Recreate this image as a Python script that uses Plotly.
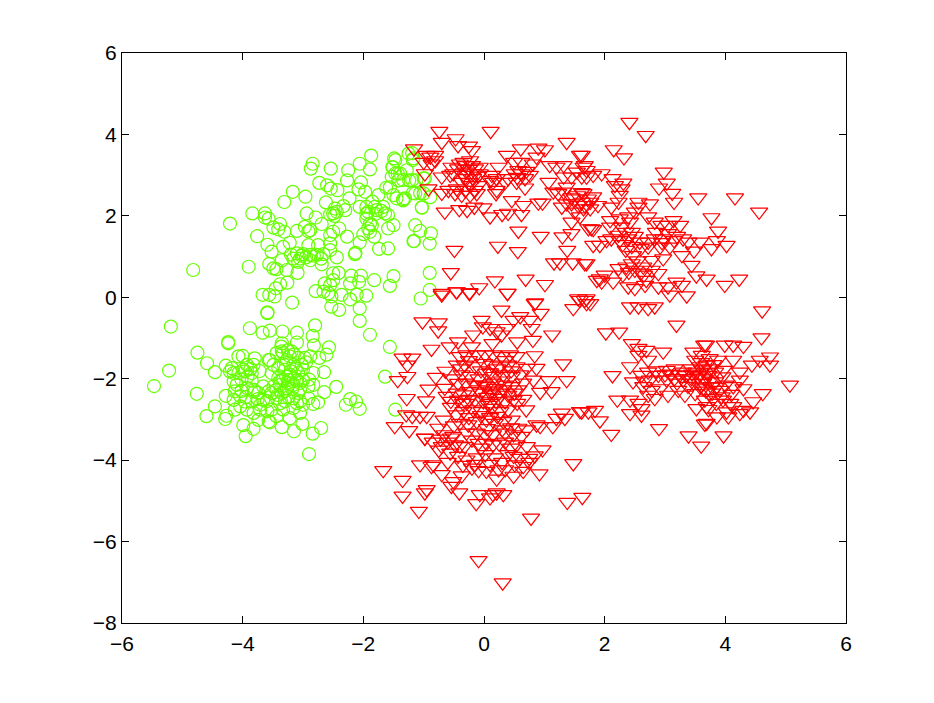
import plotly.graph_objects as go

green_upper = [(-4.21,1.81),(-4.82,0.67),(-5.19,-0.72),(-3.84,2.06),(-3.63,2.06),(-3.63,1.96),(-3.57,1.93),(-3.38,1.80),(-3.49,1.71),(-3.41,1.67),(-3.31,1.61),(-3.31,2.34),(-3.17,2.59),(-2.96,2.47),(-2.84,3.28),(-2.87,3.16),(-2.54,3.16),(-2.25,3.12),(-2.06,3.28),(-1.87,3.48),(-1.89,3.14),(-2.27,2.87),(-2.73,2.81),(-2.60,2.75),(-2.54,2.67),(-2.43,2.63),(-2.04,2.82),(-2.08,2.65),(-1.97,2.59),(-2.23,2.43),(-2.62,2.33),(-2.94,2.06),(-2.79,1.96),(-2.33,2.24),(-2.47,2.18),(-2.50,2.06),(-2.44,2.10),(-2.30,2.14),(-2.55,2.04),(-2.69,1.80),(-2.97,1.73),(-2.88,1.65),(-2.91,1.62),(-3.10,1.63),(-2.40,1.69),(-2.50,1.61),(-2.55,1.53),(-2.27,1.49),(-3.76,1.50),(-3.59,1.29),(-3.52,1.12),(-3.22,1.34),(-3.33,1.24),(-2.91,1.28),(-2.75,1.28),(-2.55,1.32),(-2.55,1.16),(-2.44,0.98),(-3.10,1.08),(-3.00,1.06),(-2.88,1.04),(-3.16,0.95),(-3.05,0.95),(-2.77,1.04),(-2.66,1.06),(-2.69,0.81),(-2.88,0.91),(-3.35,0.91),(-3.56,0.82),(-3.90,0.75),(-3.49,0.71),(-3.44,0.69),(-3.27,0.67),(-3.09,0.60),(-3.08,0.87),(-2.06,1.35),(-1.82,1.49),(-2.00,1.55),(-2.13,1.09),(-2.14,1.06),(-1.74,1.19),(-1.59,1.20),(-1.50,1.77),(-1.59,1.69),(-1.62,2.69),(-1.50,2.51),(-1.34,2.38),(-1.03,2.20),(-1.14,1.77),(-1.06,1.63),(-1.17,1.38),(-0.90,1.32),(-1.49,3.41),(-1.52,3.20),(-1.47,3.04),(-1.39,3.04),(-1.24,2.87),(-1.42,2.87),(-1.12,2.87),(-1.25,3.53),(-1.17,3.41),(-1.00,2.92),(-1.14,2.55),(-1.00,2.55),(-1.31,2.43),(-1.45,2.43),(-1.75,2.51),(-1.81,2.22),(-1.67,2.22),(-1.95,2.22),(-2.06,2.22),(-1.92,2.10),(-1.78,2.14),(-1.59,2.02),(-1.64,2.06),(-1.95,1.93),(-1.89,1.81),(-1.92,1.69),(-1.89,1.61),(-1.86,1.77),(-2.50,0.59),(-2.41,0.60),(-2.20,0.53),(-2.04,0.53),(-2.07,0.38),(-2.22,0.34),(-1.82,0.42),(-1.50,0.52),(-1.56,0.28),(-1.05,-0.03),(-0.90,0.60),(-0.90,0.18),(-3.26,0.36),(-3.38,0.32),(-3.45,0.22),(-3.67,0.06),(-3.56,0.06),(-3.47,0.02),(-3.18,-0.13),(-3.59,-0.37),(-3.59,-0.39),(-2.79,0.15),(-2.64,0.34),(-2.55,0.30),(-2.50,0.42),(-2.66,0.14),(-2.58,0.10),(-2.53,0.02),(-2.36,0.06),(-2.53,-0.23),(-2.40,-0.31),(-2.22,-0.05),(-2.11,0.06),(-1.95,0.04),(-2.06,-0.27),(-2.06,-0.58),(-1.19,3.54),(-1.47,3.37),(-1.18,3.37),(-1.51,3.19),(-1.28,3.12),(-1.43,3.04),(-1.53,2.96),(-1.34,2.88),(-1.19,2.88),(-0.98,2.92),(-1.56,2.70),(-1.18,2.56),(-1.06,2.56),(-0.89,2.46),(-1.34,2.41),(-1.03,2.21),(-0.88,1.57),(-1.16,1.38),(-1.89,-0.92),(-1.56,-1.22),(-1.64,-1.95),(-1.47,-2.76),(-1.85,2.35),(-1.95,2.05),(-1.80,2.05),(-1.70,2.12),(-2.48,2.00),(-2.95,0.98),(-3.02,1.02),(-2.82,1.02),(-2.70,0.95),(-3.20,1.05)]
green_lower = [(-3.88,-0.76),(-3.67,-0.87),(-3.55,-0.82),(-3.34,-0.84),(-3.10,-0.87),(-2.80,-0.69),(-2.84,-0.95),(-3.10,-1.11),(-2.82,-1.18),(-2.57,-1.23),(-4.24,-1.10),(-4.24,-1.13),(-4.75,-1.36),(-4.59,-1.62),(-5.22,-1.80),(-4.46,-1.84),(-5.47,-2.18),(-4.76,-2.37),(-4.46,-2.68),(-4.60,-2.92),(-4.29,-2.99),(-4.27,-2.91),(-3.99,-3.14),(-3.95,-3.41),(-3.82,-3.23),(-3.57,-3.05),(-3.55,-3.07),(-3.35,-3.19),(-3.15,-3.29),(-3.01,-3.11),(-2.84,-3.35),(-2.70,-3.21),(-2.90,-3.85),(-2.45,-2.20),(-2.29,-2.64),(-2.22,-2.50),(-2.12,-2.56),(-2.06,-2.74),(-2.65,-1.84),(-2.65,-2.33),(-2.75,-2.58),(-2.83,-2.62),(-2.61,-1.41),(-2.73,-1.49),(-2.88,-1.45),(-2.97,-1.49),(-3.08,-1.49),(-3.19,-1.33),(-3.35,-1.13),(-3.36,-1.21),(-3.35,-1.33),(-3.44,-1.37),(-3.55,-1.54),(-3.49,-1.66),(-3.27,-1.54),(-3.16,-1.66),(-3.02,-1.66),(-2.83,-1.86),(-3.30,-1.78),(-3.41,-1.74),(-3.52,-1.86),(-3.66,-2.19),(-3.22,-1.90),(-3.08,-1.86),(-3.00,-2.03),(-2.91,-2.19),(-2.83,-2.15),(-3.33,-2.03),(-3.38,-2.15),(-3.44,-2.27),(-3.27,-2.23),(-3.16,-2.15),(-3.05,-2.27),(-3.52,-2.35),(-3.35,-2.35),(-3.24,-2.45),(-3.00,-2.64),(-3.05,-2.84),(-3.16,-2.72),(-3.22,-2.97),(-3.33,-2.76),(-3.52,-2.76),(-3.71,-2.76),(-3.66,-2.52),(-3.74,-2.35),(-3.82,-2.27),(-3.96,-2.56),(-4.04,-2.68),(-3.93,-2.76),(-4.13,-2.76),(-4.15,-2.52),(-4.28,-2.42),(-4.13,-2.31),(-4.15,-2.07),(-4.21,-1.82),(-4.28,-1.68),(-4.18,-1.74),(-4.07,-1.45),(-4.00,-1.44),(-3.93,-1.66),(-3.82,-1.66),(-3.72,-1.81),(-3.85,-1.86),(-3.99,-1.78),(-4.07,-1.86),(-4.02,-2.02),(-4.10,-2.15),(-3.93,-2.23),(-3.80,-2.31),(-3.71,-2.64),(-3.82,-2.84),(-3.74,-3.01),(-3.59,-2.80),(-3.44,-2.92),(-3.08,-2.35),(-2.91,-2.48),(-3.24,-2.03),(-3.49,-2.19),(-3.41,-1.98),(-3.57,-2.31),(-3.96,-1.82),(-4.15,-1.86),(-3.87,-1.76),(-3.33,-1.37),(-3.22,-1.45),(-3.57,-1.54),(-3.10,-2.03),(-3.00,-1.78),(-3.44,-2.47),(-3.85,-2.56),(-4.04,-2.43),(-3.38,-2.60),(-3.16,-2.48),(-3.25,-2.10),(-3.18,-2.25),(-3.30,-2.30),(-3.15,-2.00),(-3.05,-2.10),(-3.38,-2.05),(-3.28,-1.95),(-3.20,-1.82),(-3.12,-1.75),(-3.32,-1.65),(-3.42,-2.40),(-3.30,-2.55),(-3.10,-2.60),(-3.60,-2.55),(-3.75,-2.50),(-3.92,-1.95),(-3.85,-2.05),(-4.02,-2.30),(-3.95,-2.45),(-3.05,-2.55),(-3.15,-1.40),(-3.25,-1.30),(-2.95,-1.60),(-3.80,-1.50),(-2.90,-2.02)]
red_top_left = [(-0.74,4.08),(0.11,4.08),(-0.47,3.90),(-0.43,3.73),(-0.70,3.81),(-0.25,3.72),(-0.20,3.61),(-1.16,3.65),(-0.95,3.49),(-0.81,3.49),(-0.89,3.45),(-1.00,3.32),(-0.87,3.28),(-0.81,3.36),(-0.98,3.04),(-0.70,2.96),(-0.54,3.20),(-0.51,3.04),(-0.34,3.32),(-0.31,3.24),(-0.20,3.24),(-0.07,3.20),(-0.29,3.08),(-0.18,3.04),(-0.07,3.04),(-0.29,2.92),(-0.18,2.92),(0.13,3.00),(0.24,3.20),(0.21,2.92),(0.15,2.83),(0.38,3.49),(0.61,3.65),(0.90,3.67),(1.01,3.63),(0.87,3.45),(0.50,3.32),(0.62,3.32),(0.81,3.28),(0.51,3.04),(0.62,3.04),(0.76,3.00),(0.54,2.83),(0.68,2.69),(1.07,2.83),(1.09,3.24),(1.32,3.24),(1.37,3.81),(1.59,3.49),(1.65,3.20),(1.45,2.96),(1.37,2.71),(1.23,2.55),(-0.92,2.67),(-0.70,2.56),(-0.48,2.55),(-0.37,2.51),(-0.23,2.51),(-0.12,2.55),(-0.01,2.20),(-0.16,2.22),(-0.28,2.14),(-0.41,2.16),(-0.65,2.10),(0.10,1.98),(0.20,2.55),(0.30,2.04),(0.40,2.07),(0.62,2.04),(0.46,2.38),(0.65,2.26),(0.90,2.32),(0.97,2.32),(1.29,2.22),(1.45,2.30),(1.56,2.26),(1.67,2.26),(1.45,1.85),(1.59,1.98),(0.57,1.63),(0.94,1.50),(1.45,1.57),(1.30,1.49),(1.73,1.69),(-0.49,1.16),(0.23,1.26),(0.56,1.13),(1.38,1.16),(1.16,0.85),(1.26,0.85),(1.47,0.85),(1.67,0.83),(-0.55,0.61),(0.18,0.41),(0.69,0.45),(1.01,0.32),(-0.70,0.10),(-0.46,0.14),(-0.24,0.12),(-0.08,0.24),(0.39,0.10),(0.85,-0.13),(1.56,-0.03),(1.70,-0.03),(-0.40,3.28),(-0.23,3.36),(-0.43,3.16),(-0.15,3.16),(-0.37,2.83),(-0.23,2.75),(-0.09,2.75),(-0.45,2.67),(-0.59,2.63),(-0.31,2.63),(-0.15,2.63),(-0.56,3.00),(0.10,2.87),(0.35,2.83),(0.40,2.92),(0.57,3.12),(0.68,2.92),(1.32,2.59),(1.51,2.42),(1.65,2.55),(1.70,3.12),(1.20,3.20),(1.32,2.96),(1.54,3.08),(1.37,2.30),(1.15,2.59),(0.21,2.63),(-0.25,3.15),(-0.10,2.98),(-0.35,3.00),(-0.25,2.82),(0.55,2.95),(0.70,3.10),(1.45,2.45),(1.55,2.50),(1.72,2.42),(1.62,2.58),(1.50,2.10)]
red_top_right = [(2.41,4.30),(2.68,3.98),(2.15,3.63),(2.32,3.43),(1.62,3.49),(1.67,3.24),(1.62,2.96),(1.70,2.96),(1.81,3.00),(1.95,3.04),(2.13,2.92),(2.31,2.81),(2.17,2.75),(2.28,2.67),(2.25,2.51),(2.98,3.08),(3.03,2.81),(2.90,2.69),(3.12,2.56),(3.15,2.34),(3.55,2.45),(4.16,2.45),(4.56,2.10),(3.77,1.96),(3.88,1.63),(3.86,1.40),(4.02,1.28),(3.77,1.20),(3.58,1.36),(3.48,1.14),(3.28,1.03),(3.44,0.79),(3.52,0.53),(3.69,0.45),(4.23,0.45),(3.99,0.30),(3.36,0.04),(4.61,-0.33),(1.81,2.47),(1.76,2.34),(1.62,2.34),(1.65,2.18),(1.89,2.26),(1.76,2.18),(2.23,2.34),(2.11,2.22),(2.56,2.34),(2.75,2.30),(2.56,2.22),(2.50,2.10),(2.39,1.98),(2.25,1.93),(2.09,1.89),(2.72,1.98),(2.83,1.85),(3.14,1.89),(3.25,1.77),(2.94,1.77),(3.05,1.77),(1.78,1.69),(1.81,1.67),(2.09,1.73),(2.28,1.73),(2.42,1.85),(2.23,1.53),(2.11,1.44),(2.03,1.40),(2.39,1.44),(1.81,1.28),(1.92,1.28),(2.58,1.36),(2.72,1.36),(2.83,1.44),(2.72,1.24),(2.97,1.44),(3.05,1.57),(2.92,1.24),(3.08,1.24),(3.30,1.44),(3.39,1.36),(2.35,1.16),(2.47,1.03),(2.78,0.91),(2.97,0.95),(1.70,0.83),(2.23,0.71),(2.36,0.75),(2.45,0.83),(2.50,0.67),(2.64,0.75),(2.78,0.67),(2.89,0.59),(1.92,0.46),(2.00,0.55),(2.14,0.38),(2.39,0.26),(2.50,0.22),(2.67,0.30),(2.89,0.26),(3.08,0.06),(3.19,0.38),(3.05,0.26),(3.28,0.30),(2.42,-0.23),(2.56,-0.23),(2.72,-0.27),(2.83,-0.23),(1.67,-0.07),(1.76,-0.15),(1.87,0.42),(1.95,0.38),(2.69,0.42),(2.45,1.60),(2.50,1.50),(2.35,1.60),(2.25,1.40),(2.30,1.30),(2.45,1.25),(2.60,1.20),(2.55,0.90),(2.60,0.60),(2.65,0.55),(2.40,0.62),(2.30,0.55),(2.95,1.35),(3.15,1.40),(3.20,1.50),(2.85,1.60)]
red_bottom_mid = [(-1.02,-0.60),(-0.75,-0.62),(-0.76,-0.82),(-0.87,-1.27),(-0.57,-1.21),(-0.43,-1.09),(-0.18,-0.92),(-0.04,-0.56),(-0.02,-0.72),(0.10,-0.76),(0.38,-0.76),(0.21,-0.84),(0.29,-0.92),(0.60,-0.47),(0.49,-0.56),(0.76,-0.56),(0.79,-0.76),(0.29,-0.31),(0.84,-0.15),(0.94,-0.39),(1.13,-0.92),(0.81,-1.05),(0.55,-1.09),(0.14,-1.13),(-0.20,-1.21),(-1.35,-1.49),(-1.19,-1.49),(-1.27,-1.66),(-1.27,-1.94),(-1.43,-2.04),(-0.64,-1.81),(-0.80,-1.96),(-1.28,-2.48),(-0.96,-2.54),(-0.92,-2.25),(-0.65,-2.23),(-0.62,-2.43),(-0.43,-2.11),(1.31,-1.63),(1.37,-2.04),(1.07,-2.04),(0.93,-2.33),(1.12,-2.31),(0.82,-2.03),(0.84,-1.43),(0.87,-1.74),(0.71,-1.74),(0.70,-2.76),(-1.48,-3.17),(-1.24,-3.27),(-0.98,-3.46),(-1.29,-2.88),(-1.19,-2.92),(-1.06,-2.92),(-0.95,-2.92),(-0.67,-3.01),(-0.46,-2.88),(-0.76,-3.21),(1.59,-2.80),(1.29,-2.84),(1.34,-2.97),(1.20,-2.97),(1.14,-3.17),(0.46,-3.01),(0.87,-3.13),(0.93,-3.17),(1.48,-0.27),(1.59,-0.07),(1.70,-0.15),(-0.70,0.06),(-0.45,0.14),(-0.24,0.10),(0.39,0.10)]
red_bottom_core = [(-0.40,-1.45),(-0.29,-1.41),(-0.12,-1.41),(0.02,-1.41),(0.15,-1.41),(0.29,-1.45),(0.43,-1.41),(0.54,-1.45),(-0.45,-1.66),(-0.32,-1.66),(-0.15,-1.70),(0.00,-1.62),(0.13,-1.66),(0.27,-1.70),(0.40,-1.66),(0.54,-1.70),(-0.37,-1.90),(-0.23,-1.94),(-0.09,-2.00),(0.04,-1.86),(0.18,-1.94),(0.32,-1.90),(0.46,-1.94),(0.60,-1.90),(-0.34,-2.39),(-0.23,-2.31),(-0.09,-2.27),(0.04,-2.19),(0.18,-2.23),(0.32,-2.27),(0.46,-2.19),(0.57,-2.27),(-0.43,-2.52),(-0.29,-2.60),(-0.15,-2.52),(-0.01,-2.56),(0.13,-2.39),(0.24,-2.48),(0.35,-2.56),(0.49,-2.52),(0.10,-2.60),(-0.34,-2.80),(-0.18,-2.76),(-0.04,-2.80),(0.13,-2.72),(0.27,-2.80),(0.40,-2.76),(-0.40,-3.09),(-0.26,-3.13),(-0.12,-3.05),(0.04,-3.01),(0.18,-3.09),(0.32,-3.05),(0.57,-3.21),(0.71,-3.25),(-0.65,-3.37),(-0.51,-3.41),(-0.29,-3.33),(-0.12,-3.33),(0.02,-3.37),(0.15,-3.37),(0.35,-3.33),(0.49,-3.37),(0.62,-3.41),(-0.05,-2.35),(0.05,-2.45),(0.12,-2.30),(0.20,-2.55),(0.08,-2.65),(0.25,-2.35),(0.00,-2.15),(0.15,-2.10),(0.30,-2.05),(-0.15,-2.15),(-0.25,-2.50),(-0.35,-2.60),(-0.45,-2.35),(-0.55,-2.55),(0.40,-2.40),(0.35,-2.15),(0.50,-2.35),(0.65,-2.10),(0.10,-1.85),(-0.05,-1.80),(0.22,-1.75),(0.35,-1.55),(0.45,-1.80),(-0.25,-1.55),(-0.38,-1.75),(-0.52,-2.00),(-0.30,-2.10),(0.55,-2.60),(0.65,-2.50),(-0.05,-2.90),(0.10,-2.95),(0.22,-2.92),(-0.25,-2.95),(-0.50,-3.15),(-0.55,-2.70),(0.45,-3.20),(0.30,-3.25),(0.05,-3.22)]
red_bottom_low = [(-1.67,-4.25),(-1.35,-4.49),(-1.35,-4.88),(-1.08,-5.25),(-0.98,-3.45),(-1.06,-4.11),(-0.87,-4.15),(-0.84,-4.11),(-0.70,-4.35),(-0.98,-4.80),(-0.95,-4.72),(-0.54,-4.64),(-0.51,-4.52),(-0.41,-4.80),(-0.37,-4.38),(-0.13,-5.06),(-0.07,-4.84),(0.10,-4.92),(0.15,-4.84),(0.21,-4.80),(0.32,-4.84),(0.21,-4.46),(-0.20,-4.19),(-0.09,-4.25),(0.04,-4.27),(0.24,-4.23),(0.49,-4.39),(0.65,-4.27),(0.35,-4.23),(0.92,-4.33),(0.84,-3.89),(0.97,-3.74),(0.49,-3.90),(0.71,-3.66),(0.54,-3.62),(0.51,-4.11),(0.65,-4.15),(1.48,-4.08),(1.38,-5.03),(1.63,-4.91),(0.78,-5.42),(-0.09,-6.46),(0.31,-7.01),(-0.70,-3.66),(-0.56,-3.82),(-0.43,-3.90),(-0.29,-3.99),(-0.12,-3.94),(0.02,-3.86),(0.18,-3.94),(-0.48,-3.62),(-0.32,-3.66),(-0.09,-3.58),(0.04,-3.58),(0.15,-3.62),(0.40,-3.86),(-0.85,-3.55),(-0.75,-3.75),(-0.55,-3.45),(-0.20,-3.50),(-0.40,-3.65),(-0.05,-3.70),(0.25,-3.60),(0.35,-3.55),(0.45,-3.70),(-0.60,-3.55),(-0.72,-3.48),(-0.60,-4.05),(-0.35,-4.12),(-0.15,-4.10),(0.10,-4.10),(0.30,-4.05),(0.60,-3.95),(0.75,-3.95),(0.75,-4.05)]
red_bottom_right = [(4.60,-0.99),(3.19,-0.68),(2.02,-0.87),(2.24,-0.85),(2.45,-1.13),(2.56,-1.25),(2.69,-1.30),(2.97,-1.34),(3.47,-1.34),(3.65,-1.17),(3.68,-1.17),(3.99,-1.17),(4.13,-1.17),(4.30,-1.20),(4.74,-1.46),(4.57,-1.54),(4.74,-1.66),(4.44,-1.66),(4.13,-1.54),(2.42,-1.70),(2.56,-1.42),(2.72,-1.54),(2.13,-1.92),(2.47,-2.07),(5.07,-2.15),(2.21,-2.52),(2.42,-2.52),(2.42,-2.85),(2.61,-2.89),(2.61,-2.73),(2.90,-3.22),(3.39,-3.40),(3.60,-3.65),(3.97,-3.40),(2.11,-3.36),(1.92,-3.03),(1.73,-2.81),(1.84,-2.77),(1.62,-2.81),(3.69,-3.09),(3.66,-3.11),(4.05,-2.93),(4.24,-2.85),(4.41,-2.81),(4.46,-2.56),(4.62,-2.36),(4.30,-2.24),(4.24,-2.03),(4.24,-1.83),(3.52,-2.73),(3.86,-2.93),(3.69,-2.68),(3.96,-2.52),(4.13,-2.19),(3.97,-1.79),(3.88,-1.54),(3.74,-1.50),(3.50,-1.54),(3.61,-1.42),(3.03,-1.79),(3.16,-1.75),(3.30,-1.83),(3.44,-1.75),(3.58,-1.70),(2.72,-1.83),(2.61,-1.91),(2.89,-1.91),(2.75,-2.03),(3.03,-2.03),(3.16,-1.99),(3.30,-2.03),(3.44,-1.99),(3.58,-1.91),(3.72,-1.91),(3.83,-1.83),(2.64,-2.19),(2.78,-2.28),(2.92,-2.24),(3.05,-2.40),(3.22,-2.28),(3.33,-2.40),(3.50,-2.36),(3.63,-2.24),(3.77,-2.19),(3.91,-2.28),(2.83,-2.48),(2.72,-2.40),(3.63,-2.11),(3.80,-2.48),(3.94,-2.44),(3.66,-2.52),(3.47,-2.11),(3.83,-2.07),(3.52,-1.83),(3.69,-1.66),(4.02,-2.81),(4.13,-2.68),(4.08,-2.60),(2.56,-2.60),(4.30,-2.77),(3.60,-1.60),(3.62,-1.78),(3.55,-1.95),(3.70,-1.85),(3.75,-1.75),(3.65,-2.00),(3.75,-2.05),(3.85,-2.20),(3.58,-2.20),(3.45,-1.88),(3.35,-1.92),(3.25,-1.90),(3.10,-1.88),(3.00,-1.90),(3.20,-2.10),(3.38,-2.18),(2.85,-1.80),(2.65,-2.05),(3.80,-1.65),(3.68,-2.30),(3.78,-2.35),(3.85,-2.60),(3.72,-2.75),(4.00,-2.15),(4.10,-2.38),(3.95,-1.95)]

green_points = green_upper + green_lower
red_points = red_top_left + red_top_right + red_bottom_mid + red_bottom_core + red_bottom_low + red_bottom_right

x_ticks = [-6, -4, -2, 0, 2, 4, 6]
y_ticks = [-8, -6, -4, -2, 0, 2, 4, 6]

fig = go.Figure()
fig.add_trace(go.Scatter(
    x=[p[0] for p in green_points], y=[p[1] for p in green_points], mode="markers",
    marker=dict(symbol="circle-open", size=13, color="#66ff00", line=dict(color="#66ff00", width=1.2)),
))
fig.add_trace(go.Scatter(
    x=[p[0] for p in red_points], y=[p[1] for p in red_points], mode="markers",
    marker=dict(symbol="triangle-down-open", size=15, color="#ff0000", line=dict(color="#ff0000", width=1.2)),
))
axis = dict(showgrid=False, zeroline=False, showline=True, linecolor="black", linewidth=1,
            mirror="ticks", ticks="inside", ticklen=7, tickcolor="black", tickwidth=1)
fig.update_layout(
    width=934, height=703, showlegend=False, paper_bgcolor="white", plot_bgcolor="white",
    margin=dict(l=122, r=88, t=53, b=80),
    font=dict(family="Liberation Sans", size=21, color="black"),
    xaxis=dict(range=[-6, 6], tickvals=x_ticks, ticklabelstandoff=2, **axis),
    yaxis=dict(range=[-8, 6], tickvals=y_ticks, **axis),
)
fig.write_html("out.html", config={"displayModeBar": False}, post_script="document.body.style.margin='0';")
